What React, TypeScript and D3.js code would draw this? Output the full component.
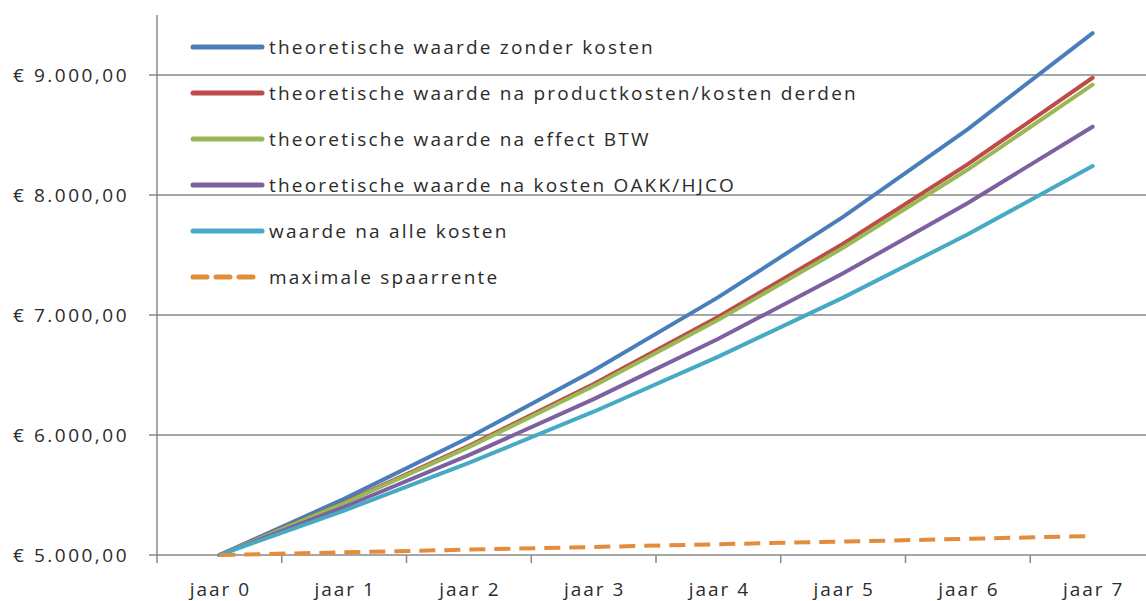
import * as d3 from "d3";

const categories = ["jaar 0", "jaar 1", "jaar 2", "jaar 3", "jaar 4", "jaar 5", "jaar 6", "jaar 7"];
const zonderKosten = [5000, 5468, 5979, 6538, 7149, 7818, 8549, 9349];
const naProductkosten = [5000, 5436, 5910, 6425, 6985, 7594, 8257, 8977];
const naEffectBtw = [5000, 5431, 5899, 6408, 6960, 7560, 8212, 8920];
const naKostenOakk = [5000, 5400, 5832, 6299, 6802, 7347, 7934, 8569];
const naAlleKosten = [5000, 5370, 5767, 6194, 6653, 7145, 7673, 8241];
const spaarrente = [5000, 5022, 5045, 5067, 5090, 5112, 5135, 5158];
const yTicks = [5000, 6000, 7000, 8000, 9000];

const series = [
  { name: "theoretische waarde zonder kosten", values: zonderKosten, color: "#4A7EBB", dash: "" },
  { name: "theoretische waarde na productkosten/kosten derden", values: naProductkosten, color: "#BE4B48", dash: "" },
  { name: "theoretische waarde na effect BTW", values: naEffectBtw, color: "#98B954", dash: "" },
  { name: "theoretische waarde na kosten OAKK/HJCO", values: naKostenOakk, color: "#7D60A0", dash: "" },
  { name: "waarde na alle kosten", values: naAlleKosten, color: "#46AAC5", dash: "" },
  { name: "maximale spaarrente", values: spaarrente, color: "#E38C3C", dash: "16,9" },
];

const W = 1146;
const H = 601;
const left = 157;
const right = 1155;
const top = 15;
const bottom = 555;
const font = "'Open Sans', sans-serif";
const txt = { fontSize: 19, letterSpacing: 2.2, fill: "#2b2b2b" };

const fmt = (v: number) => "€ " + d3.format(",.2f")(v).replace(/,/g, "#").replace(".", ",").replace(/#/g, ".");

export default function App() {
  const x = d3.scaleBand().domain(categories).range([left, right]);
  const y = d3.scaleLinear().domain([5000, 9500]).range([bottom, top]);
  const line = d3
    .line<number>()
    .x((_, i) => (x(categories[i]) ?? 0) + x.bandwidth() / 2)
    .y((d) => y(d));

  return (
    <div style={{ position: "absolute", left: 0, top: 0 }}>
      <svg width={W} height={H} style={{ display: "block", background: "#fff" }} fontFamily={font}>
        {yTicks.map((t) => (
          <g key={t}>
            <line x1={left - 8} x2={right} y1={y(t)} y2={y(t)} stroke="#888" strokeWidth={1.5} />
            <text x={129} y={y(t)} dy="0.35em" textAnchor="end" {...txt} letterSpacing={2.5}>
              {fmt(t)}
            </text>
          </g>
        ))}
        <line x1={left} x2={left} y1={top} y2={bottom + 8} stroke="#888" strokeWidth={1.5} />
        {categories.map((c, i) => (
          <g key={c}>
            {i > 0 && (
              <line x1={x(c)} x2={x(c)} y1={bottom} y2={bottom + 8} stroke="#888" strokeWidth={1.5} />
            )}
            <text x={(x(c) ?? 0) + x.bandwidth() / 2 + 1} y={596} textAnchor="middle" {...txt} letterSpacing={2}>
              {c}
            </text>
          </g>
        ))}
        {series.map((s) => (
          <path
            key={s.name}
            d={line(s.values) ?? ""}
            fill="none"
            stroke={s.color}
            strokeWidth={4}
            strokeDasharray={s.dash || undefined}
            strokeLinecap={s.dash ? "butt" : "round"}
          />
        ))}
        {series.map((s, i) => {
          const ly = 47 + i * 46;
          return (
            <g key={"lg" + s.name}>
              <line
                x1={193}
                x2={s.dash ? 254 : 262}
                y1={ly}
                y2={ly}
                stroke={s.color}
                strokeWidth={5}
                strokeDasharray={s.dash ? "14,9" : undefined}
                strokeLinecap="round"
              />
              <text x={269} y={ly} dy="0.35em" {...txt}>
                {s.name}
              </text>
            </g>
          );
        })}
      </svg>
    </div>
  );
}
